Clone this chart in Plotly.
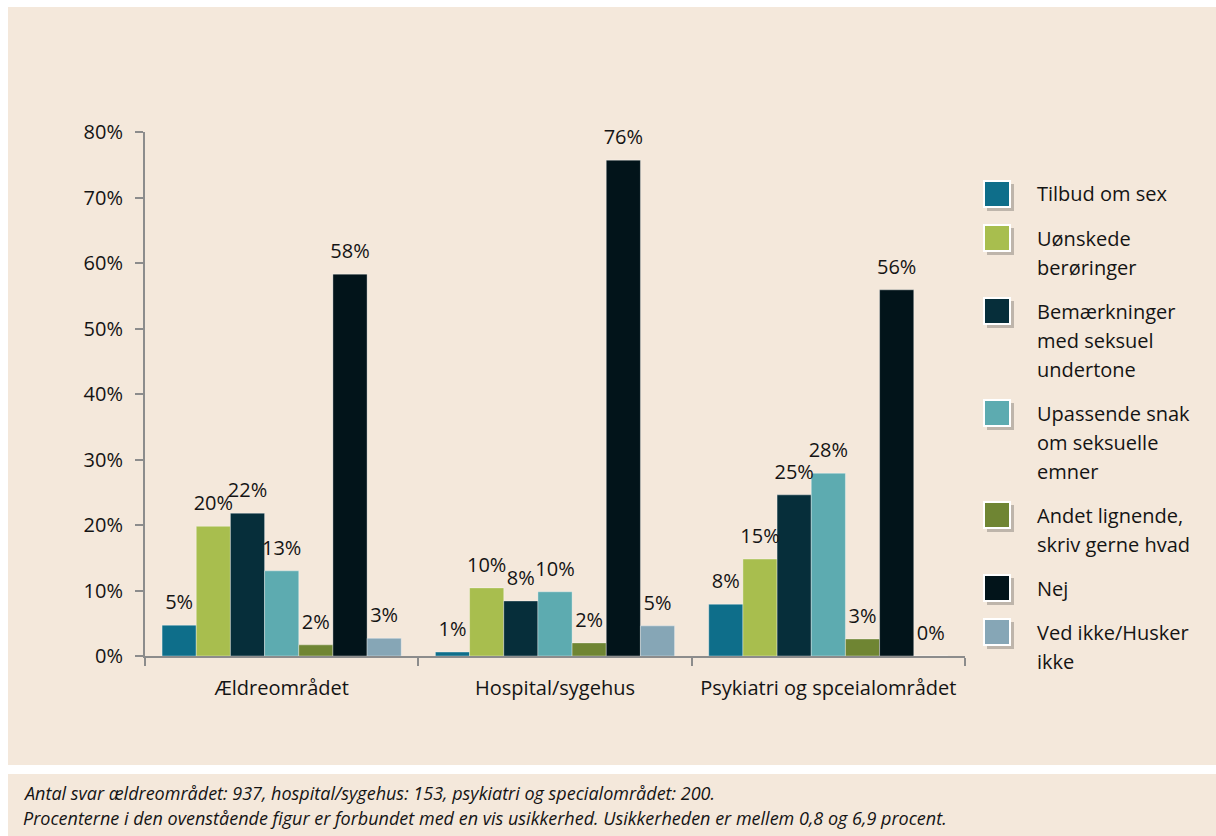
import plotly.graph_objects as go

categories = ["Ældreområdet", "Hospital/sygehus", "Psykiatri og spceialområdet"]

series_names = [
    "Tilbud om sex",
    "Uønskede<br>berøringer",
    "Bemærkninger<br>med seksuel<br>undertone",
    "Upassende snak<br>om seksuelle<br>emner",
    "Andet lignende,<br>skriv gerne hvad",
    "Nej",
    "Ved ikke/Husker<br>ikke",
]

tilbud_om_sex = [0.047, 0.006, 0.079]
uonskede_beroringer = [0.198, 0.104, 0.148]
bemaerkninger = [0.218, 0.084, 0.246]
upassende_snak = [0.130, 0.098, 0.279]
andet_lignende = [0.017, 0.020, 0.026]
nej = [0.583, 0.757, 0.559]
ved_ikke = [0.027, 0.046, 0.0]

series_values = [tilbud_om_sex, uonskede_beroringer, bemaerkninger,
                 upassende_snak, andet_lignende, nej, ved_ikke]

colors = ["#0E6E8A", "#A8BE4E", "#062E3A", "#5DABB0", "#6F8533", "#02141A", "#86A6B6"]

footnote_lines = [
    "Antal svar ældreområdet: 937, hospital/sygehus: 153, psykiatri og specialområdet: 200.",
    "Procenterne i den ovenstående figur er forbundet med en vis usikkerhed. Usikkerheden er mellem 0,8 og 6,9 procent.",
]

W, H = 1216, 836
BG = "#F4E8DB"
FONT = "Open Sans"
TXT = "#141414"


def px(x):
    return x / W


def py(y):
    return 1 - y / H


fig = go.Figure()
for k, (name, vals, col) in enumerate(zip(series_names, series_values, colors)):
    fig.add_trace(go.Bar(
        x=categories, y=vals, name=name.replace("<br>", " "),
        marker=dict(color=col, line=dict(color="rgba(255,255,255,0.35)", width=1)),
        offsetgroup=str(k), showlegend=False, hoverinfo="skip",
    ))
for k, vals in enumerate(series_values):
    fig.add_trace(go.Scatter(
        x=categories, y=vals, mode="markers+text",
        marker=dict(size=16, opacity=0),
        texttemplate="%{y:.0%}", textposition="top center",
        textfont=dict(family=FONT, size=20, color=TXT),
        offsetgroup=str(k), cliponaxis=False, showlegend=False, hoverinfo="skip",
    ))

shapes = [
    dict(type="rect", xref="paper", yref="paper", x0=px(8), x1=1, y0=py(765), y1=py(7),
         fillcolor=BG, line=dict(width=0), layer="below"),
    dict(type="rect", xref="paper", yref="paper", x0=px(8), x1=1, y0=0, y1=py(774),
         fillcolor=BG, line=dict(width=0), layer="below"),
]
annotations = []

# custom legend
line_h = 29
gap = 15
y = 194
sq = 26
lx = 984
for name, col in zip(series_names, colors):
    lines = name.split("<br>")
    shapes.append(dict(type="rect", xref="paper", yref="paper",
                       x0=px(lx + 3), x1=px(lx + sq + 4), y0=py(y + sq / 2 + 4), y1=py(y - sq / 2 + 3),
                       fillcolor="rgba(0,0,0,0.22)", line=dict(width=0)))
    shapes.append(dict(type="rect", xref="paper", yref="paper",
                       x0=px(lx), x1=px(lx + sq), y0=py(y + sq / 2), y1=py(y - sq / 2),
                       fillcolor=col, line=dict(color="white", width=2)))
    for i, ln in enumerate(lines):
        annotations.append(dict(xref="paper", yref="paper", x=px(1035), y=py(y + i * line_h),
                                xanchor="left", yanchor="middle", showarrow=False, text=ln,
                                font=dict(family=FONT, size=20, color=TXT)))
    y += len(lines) * line_h + gap

for i, t in enumerate(footnote_lines):
    annotations.append(dict(xref="paper", yref="paper", x=px(21), y=py(793 + i * 25),
                            xanchor="left", yanchor="middle", showarrow=False,
                            text="<i>" + t + "</i>",
                            font=dict(family=FONT, size=18, color=TXT)))

fig.update_layout(
    width=W, height=H,
    margin=dict(l=0, r=0, t=0, b=0, pad=0, autoexpand=False),
    paper_bgcolor="white", plot_bgcolor="rgba(0,0,0,0)",
    barmode="group", bargap=0.125, bargroupgap=0,
    scattermode="group", scattergap=0.125,
    showlegend=False,
    font=dict(family=FONT, size=20, color=TXT),
    shapes=shapes, annotations=annotations,
    xaxis=dict(domain=[px(145), px(965)], type="category", showline=True, linecolor="#8C8C8C",
               linewidth=2, ticks="outside", tickson="boundaries", ticklen=8, tickwidth=2,
               tickcolor="#8C8C8C", showgrid=False, tickfont=dict(family=FONT, size=20, color=TXT),
               ticklabelstandoff=13, anchor="y", automargin=False),
    yaxis=dict(domain=[py(656), py(132)], range=[0, 0.8], dtick=0.1, tickformat=".0%",
               showline=True, linecolor="#8C8C8C", linewidth=2, ticks="outside", ticklen=8,
               tickwidth=2, tickcolor="#8C8C8C", showgrid=False, zeroline=False,
               tickfont=dict(family=FONT, size=20, color=TXT), ticklabelstandoff=8,
               anchor="x", automargin=False),
)

fig.write_html("out.html", config={"displayModeBar": False},
               post_script="document.body.style.margin='0';document.body.style.overflow='hidden';")
